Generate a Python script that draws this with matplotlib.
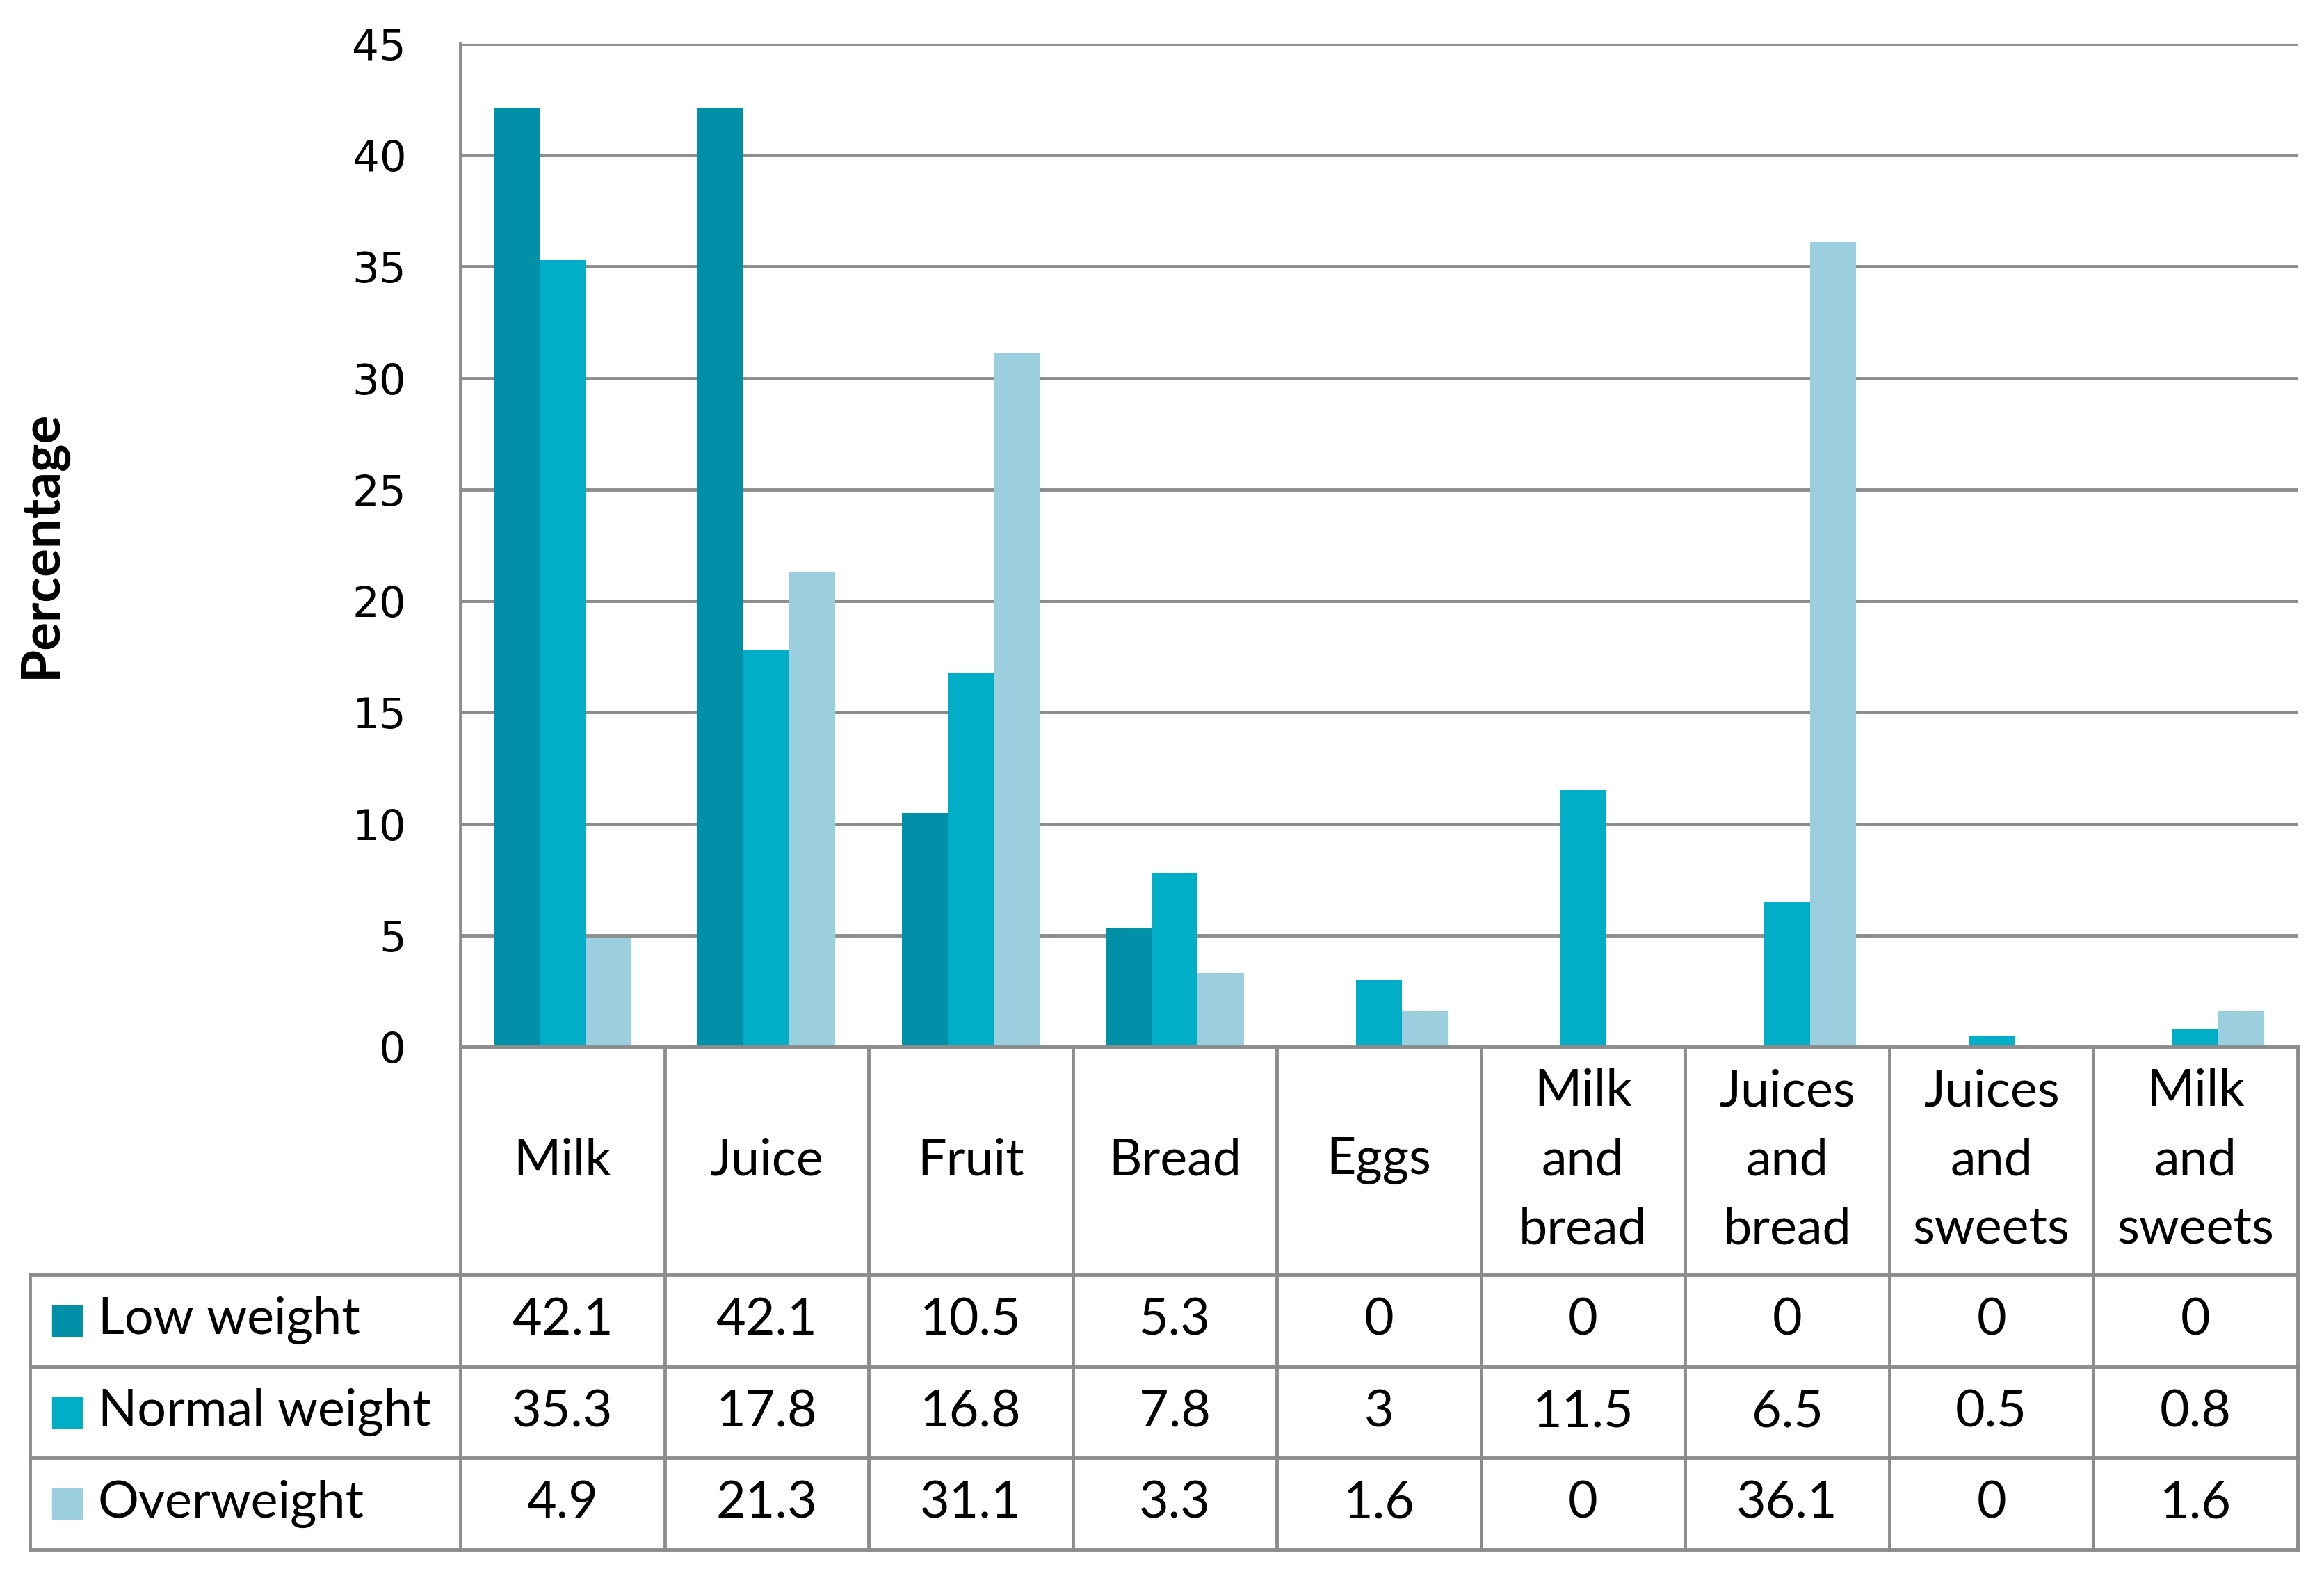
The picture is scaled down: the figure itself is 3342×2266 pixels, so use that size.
import matplotlib
matplotlib.use("Agg")
import matplotlib.pyplot as plt
import numpy as np

# data
categories = ["Milk", "Juice", "Fruit", "Bread", "Eggs",
              "Milk\nand\nbread", "Juices\nand\nbread",
              "Juices\nand\nsweets", "Milk\nand\nsweets"]
series = ["Low weight", "Normal weight", "Overweight"]
low_weight = [42.1, 42.1, 10.5, 5.3, 0, 0, 0, 0, 0]
normal_weight = [35.3, 17.8, 16.8, 7.8, 3, 11.5, 6.5, 0.5, 0.8]
overweight = [4.9, 21.3, 31.1, 3.3, 1.6, 0, 36.1, 0, 1.6]
yticks = [0, 5, 10, 15, 20, 25, 30, 35, 40, 45]

colors = ["#0190a8", "#00aec7", "#9bcfdf"]
grid_col = "#8c8c8c"
W, H = 3342, 2266
font = "Lato"

fig = plt.figure(figsize=(W / 100, H / 100), dpi=100)

# main chart, pixel box
x0, x1 = 662, 3304
ytop, ybot = 63, 1505
ax = fig.add_axes([x0 / W, 1 - ybot / H, (x1 - x0) / W, (ybot - ytop) / H])
n = len(categories)
x = np.arange(n)
bw = 0.225
vals = [low_weight, normal_weight, overweight]
for i, v in enumerate(vals):
    ax.bar(x + (i - 1) * bw, v, width=bw, color=colors[i], zorder=3)

ax.set_xlim(-0.5, n - 0.5)
ax.set_ylim(0, 45)
ax.set_yticks(yticks)
ax.set_yticklabels([str(t) for t in yticks], fontsize=44, family="DejaVu Sans")
ax.set_xticks([])
ax.tick_params(axis="y", length=0, pad=56)
for t in yticks[1:]:
    ax.axhline(t, color=grid_col, lw=3.5, zorder=1)
for s in ["top", "right", "bottom"]:
    ax.spines[s].set_visible(False)
ax.spines["left"].set_color(grid_col)
ax.spines["left"].set_linewidth(3.5)

fig.text(60 / W, 1 - 782 / H, "Percentage", rotation=90, fontsize=55,
         fontweight="bold", family=font, ha="center", va="center")

# table below
tleft, tbot = 43, 2228
colw = (x1 - x0) / n
tx0 = -0.5 - (x0 - tleft) / colw
tab = fig.add_axes([tleft / W, 1 - tbot / H, (x1 - tleft) / W, (tbot - ybot) / H])
tab.set_xlim(tx0, n - 0.5)
hdr = 1833 - ybot
rh = (tbot - ybot - hdr) / 3
tab.set_ylim(tbot - ybot, 0)
tab.axis("off")

lw = 3.5
fs = 53
# vertical lines
for b in np.arange(n + 1) - 0.5:
    tab.plot([b, b], [0, tbot - ybot], color=grid_col, lw=lw, clip_on=False)
tab.plot([tx0, tx0], [hdr, tbot - ybot], color=grid_col, lw=lw, clip_on=False)
# horizontal lines
tab.plot([-0.5, n - 0.5], [0, 0], color=grid_col, lw=lw, clip_on=False)
for k in range(4):
    yy = hdr + k * rh
    tab.plot([tx0, n - 0.5], [yy, yy], color=grid_col, lw=lw, clip_on=False)

for j, c in enumerate(categories):
    tab.text(j, hdr / 2, c, ha="center", va="center", fontsize=fs,
             family=font, linespacing=1.6)

for i, name in enumerate(series):
    yc = hdr + (i + 0.5) * rh
    tab.add_patch(plt.Rectangle((tx0 + 32 / colw, yc - 22), 43 / colw, 44,
                                color=colors[i], clip_on=False))
    tab.text(tx0 + 98 / colw, yc, name, ha="left", va="center",
             fontsize=fs, family=font)
    for j, v in enumerate(vals[i]):
        tab.text(j, yc, f"{v:g}", ha="center", va="center", fontsize=fs,
                 family=font)

fig.savefig("out.png", dpi=100)
